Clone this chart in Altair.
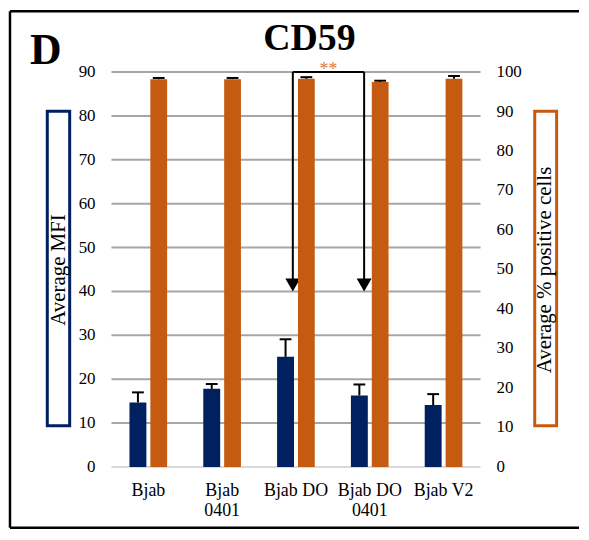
import altair as alt
import pandas as pd

# ---------------- data ----------------
categories = ["Bjab", "Bjab\n0401", "Bjab DO", "Bjab DO\n0401", "Bjab V2"]
mfi = [14.7, 17.8, 25.1, 16.3, 14.1]          # Average MFI (left axis)
mfi_err_top = [17.0, 18.9, 29.1, 18.8, 16.6]  # top of MFI error bar
pos = [98.2, 98.2, 98.3, 97.5, 98.3]          # Average % positive cells (right axis)
pos_err_top = [98.5, 98.5, 98.7, 97.8, 99.0]  # top of % error bar
mfi_ticks = [0, 10, 20, 30, 40, 50, 60, 70, 80, 90]
pos_ticks = [0, 10, 20, 30, 40, 50, 60, 70, 80, 90, 100]
arrow_x = [1.957, 2.923]     # arrows between Bjab DO and Bjab DO 0401
arrow_top = 90
arrow_tip = 40
sig_label = "**"

NAVY = "#002060"
ORANGE = "#C55A11"
SIG_ORANGE = "#E07B39"
FONT = "Liberation Serif"
W, H = 371, 397

df = pd.DataFrame({
    "idx": list(range(len(categories))),
    "cat": categories,
    "mfi": mfi,
    "mfi_err": mfi_err_top,
    "pos": pos,
    "pos_err": pos_err_top,
})
arrows = pd.DataFrame({"ax": arrow_x})
lt_df = pd.DataFrame({"g": mfi_ticks})
rt_df = pd.DataFrame({"p": pos_ticks})
one = pd.DataFrame({"k": [0]})

x_scale = alt.Scale(domain=[-0.5, len(categories) - 0.5], nice=False, zero=False)
yl_scale = alt.Scale(domain=[0, 90], nice=False)
yr_scale = alt.Scale(domain=[0, 100], nice=False)

base = alt.Chart(df)

# ---- left (MFI) group ----
grid = alt.Chart(lt_df).mark_rule(strokeWidth=2).encode(
    x=alt.X(datum=-0.5, scale=x_scale, axis=None),
    x2=alt.datum(len(categories) - 0.5),
    y=alt.Y("g:Q", scale=yl_scale, axis=None),
    color=alt.condition("datum.g === 0", alt.value("#d9d9d9"), alt.value("#a6a6a6")),
)
left_labels = alt.Chart(lt_df).mark_text(
    font=FONT, fontSize=17, align="right", baseline="middle", color="black"
).encode(
    x=alt.value(-16),
    y=alt.Y("g:Q", scale=yl_scale, axis=None),
    text=alt.Text("g:Q", format="d"),
)
x_labels = base.mark_text(
    font=FONT, fontSize=18, align="center", baseline="top", color="black",
    lineBreak="\n", lineHeight=20,
).encode(
    x=alt.X("idx:Q", scale=x_scale, axis=None),
    y=alt.value(H + 15),
    text="cat:N",
)
navy_bars = base.mark_bar(color=NAVY).transform_calculate(
    x0="datum.idx - 0.256", x1="datum.idx - 0.027"
).encode(
    x=alt.X("x0:Q", scale=x_scale, axis=None),
    x2="x1:Q",
    y=alt.Y("mfi:Q", scale=yl_scale, axis=None),
    y2=alt.datum(0),
)
navy_err = base.mark_rule(color="black", strokeWidth=2).transform_calculate(
    xc="datum.idx - 0.1415"
).encode(
    x=alt.X("xc:Q", scale=x_scale, axis=None),
    y=alt.Y("mfi:Q", scale=yl_scale, axis=None),
    y2="mfi_err:Q",
)
navy_cap = base.mark_rule(color="black", strokeWidth=2).transform_calculate(
    xa="datum.idx - 0.2215", xb="datum.idx - 0.0615"
).encode(
    x=alt.X("xa:Q", scale=x_scale, axis=None),
    x2="xb:Q",
    y=alt.Y("mfi_err:Q", scale=yl_scale, axis=None),
)
shafts = alt.Chart(arrows).mark_rule(color="black", strokeWidth=2).encode(
    x=alt.X("ax:Q", scale=x_scale, axis=None),
    y=alt.Y(datum=arrow_top, scale=yl_scale, axis=None),
    y2=alt.datum(arrow_tip + 2),
)
heads = alt.Chart(arrows).mark_point(
    shape="M-1,-0.87L1,-0.87L0,0.87Z", filled=True, color="black", opacity=1, size=225
).encode(
    x=alt.X("ax:Q", scale=x_scale, axis=None),
    y=alt.Y(datum=arrow_tip + 1.47, scale=yl_scale, axis=None),
)
bracket = alt.Chart(one).mark_rule(color="black", strokeWidth=2).encode(
    x=alt.X(datum=arrow_x[0], scale=x_scale, axis=None),
    x2=alt.datum(arrow_x[1]),
    y=alt.Y(datum=arrow_top, scale=yl_scale, axis=None),
)
sig = alt.Chart(one).mark_text(
    font=FONT, fontSize=18, color=SIG_ORANGE, align="center", baseline="alphabetic"
).encode(
    x=alt.X(datum=(arrow_x[0] + arrow_x[1]) / 2, scale=x_scale, axis=None),
    y=alt.Y(datum=89.3, scale=yl_scale, axis=None),
    text=alt.value(sig_label),
)

# decorations (pixel positions relative to the plot area)
frame_left = alt.Chart(one).mark_rule(color="black", strokeWidth=2.5).encode(
    x=alt.value(-102), y=alt.value(-61), y2=alt.value(458))
frame_top = alt.Chart(one).mark_rule(color="black", strokeWidth=2.5).encode(
    x=alt.value(-102), x2=alt.value(470), y=alt.value(-61))
frame_bottom = alt.Chart(one).mark_rule(color="black", strokeWidth=2.5).encode(
    x=alt.value(-102), x2=alt.value(470), y=alt.value(458))
box_left = alt.Chart(one).mark_rect(fillOpacity=0, stroke=NAVY, strokeWidth=3).encode(
    x=alt.value(-64.5), x2=alt.value(-42), y=alt.value(39.5), y2=alt.value(355.5))
box_right = alt.Chart(one).mark_rect(fillOpacity=0, stroke=ORANGE, strokeWidth=3).encode(
    x=alt.value(425.5), x2=alt.value(447.5), y=alt.value(39.5), y2=alt.value(355.5))
title_left = alt.Chart(one).mark_text(
    font=FONT, fontSize=21, angle=270, align="center", baseline="middle", color="black"
).encode(x=alt.value(-53), y=alt.value(199), text=alt.value("Average MFI"))
title_right = alt.Chart(one).mark_text(
    font=FONT, fontSize=21, angle=270, align="center", baseline="middle", color="black"
).encode(x=alt.value(435.5), y=alt.value(199), text=alt.value("Average % positive cells"))
main_title = alt.Chart(one).mark_text(
    font=FONT, fontSize=38, fontWeight="bold", align="center", baseline="alphabetic", color="black"
).encode(x=alt.value(199), y=alt.value(-22), text=alt.value("CD59"))
panel = alt.Chart(one).mark_text(
    font=FONT, fontSize=44, fontWeight="bold", align="left", baseline="alphabetic", color="black"
).encode(x=alt.value(-82), y=alt.value(-8), text=alt.value("D"))

left = alt.layer(
    grid, left_labels, x_labels, navy_bars, navy_err, navy_cap, shafts, heads, bracket, sig,
    frame_left, frame_top, frame_bottom, box_left, box_right,
    title_left, title_right, main_title, panel,
)

# ---- right (% positive) group ----
right_labels = alt.Chart(rt_df).mark_text(
    font=FONT, fontSize=17, align="left", baseline="middle", color="black"
).encode(
    x=alt.value(W + 16),
    y=alt.Y("p:Q", scale=yr_scale, axis=None),
    text=alt.Text("p:Q", format="d"),
)
orange_bars = base.mark_bar(color=ORANGE).transform_calculate(
    x0="datum.idx + 0.027", x1="datum.idx + 0.254"
).encode(
    x=alt.X("x0:Q", scale=x_scale, axis=None),
    x2="x1:Q",
    y=alt.Y("pos:Q", scale=yr_scale, axis=None),
    y2=alt.datum(0),
)
orange_err = base.mark_rule(color="black", strokeWidth=2).transform_calculate(
    xc="datum.idx + 0.1405"
).encode(
    x=alt.X("xc:Q", scale=x_scale, axis=None),
    y=alt.Y("pos:Q", scale=yr_scale, axis=None),
    y2="pos_err:Q",
)
orange_cap = base.mark_rule(color="black", strokeWidth=2).transform_calculate(
    xa="datum.idx + 0.0605", xb="datum.idx + 0.2205"
).encode(
    x=alt.X("xa:Q", scale=x_scale, axis=None),
    x2="xb:Q",
    y=alt.Y("pos_err:Q", scale=yr_scale, axis=None),
)
right = alt.layer(right_labels, orange_bars, orange_err, orange_cap)

chart = alt.layer(left, right).resolve_scale(y="independent").properties(
    width=W, height=H, padding=0, background="white"
).configure_view(stroke=None)

chart.save("out.html", embed_options={"renderer": "svg", "actions": False})
